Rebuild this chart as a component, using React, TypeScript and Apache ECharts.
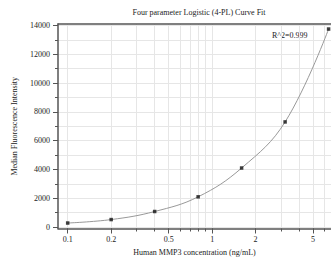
import React, { useEffect, useRef } from "react";
import * as echarts from "echarts";

const concentrations = [0.1, 0.2, 0.4, 0.8, 1.6, 3.2, 6.4];
const mfi = [280, 520, 1080, 2100, 4100, 7300, 13750];
const xLabelTicks = [0.1, 0.2, 0.5, 1, 2, 5];
const xMinorTicks = [0.1, 0.2, 0.3, 0.4, 0.5, 0.6, 0.7, 0.8, 0.9, 1, 2, 3, 4, 5, 6];
const yLabelTicks = [0, 2000, 4000, 6000, 8000, 10000, 12000, 14000];
const yMinorTicks = [0, 1000, 2000, 3000, 4000, 5000, 6000, 7000, 8000, 9000, 10000, 11000, 12000, 13000, 14000];
const titleText = "Four parameter Logistic (4-PL) Curve Fit";
const xName = "Human MMP3 concentration (ng/mL)";
const yName = "Median Fluorescence Intensity";
const r2Text = "R^2=0.999";

const FONT = "Liberation Serif";
const TEXT = "#222";
const X_MIN = 0.0857;
const X_MAX = 6.65;
const Y_MIN = -100;
const Y_MAX = 14100;

export default function App() {
  const ref = useRef<HTMLDivElement>(null);
  useEffect(() => {
    if (!ref.current) return;
    const chart = echarts.init(ref.current, null, { renderer: "svg" });
    const axisLineStyle = { color: "#555", width: 1.5 };
    const labelStyle = { fontFamily: FONT, fontSize: 8, color: TEXT };
    const pts = concentrations.map((c, i) => [c, mfi[i]]);
    chart.setOption({
      animation: false,
      backgroundColor: "#fff",
      textStyle: { fontFamily: FONT, color: TEXT },
      title: {
        text: titleText,
        left: 194,
        top: 3,
        textAlign: "center",
        textStyle: { fontFamily: FONT, fontSize: 8, fontWeight: "normal", color: TEXT },
      },
      grid: { left: 58, right: 0, top: 24, bottom: 37.5, containLabel: false },
      xAxis: [
        {
          type: "log",
          logBase: 10,
          min: X_MIN,
          max: X_MAX,
          position: "bottom",
          axisLine: { show: true, onZero: false, lineStyle: axisLineStyle },
          axisTick: { show: true, length: 5, customValues: xLabelTicks, lineStyle: { color: "#555", width: 1 } },
          axisLabel: { show: true, customValues: xLabelTicks, margin: 7, ...labelStyle, formatter: (v: number) => String(v) },
          splitLine: { show: false },
          name: xName,
          nameLocation: "middle",
          nameGap: 19,
          nameTextStyle: { fontFamily: FONT, fontSize: 8, color: TEXT },
        },
        {
          type: "log",
          logBase: 10,
          min: X_MIN,
          max: X_MAX,
          position: "bottom",
          axisLine: { show: false, onZero: false },
          axisTick: { show: true, length: 3, customValues: xMinorTicks, lineStyle: { color: "#555", width: 1 } },
          axisLabel: { show: false },
          splitLine: { show: true, lineStyle: { color: "#e6e6e6", width: 1 } },
        },
        {
          type: "log",
          logBase: 10,
          min: X_MIN,
          max: X_MAX,
          position: "top",
          axisLine: { show: true, onZero: false, lineStyle: axisLineStyle },
          axisTick: { show: false },
          axisLabel: { show: false },
          splitLine: { show: false },
        },
      ],
      yAxis: [
        {
          type: "value",
          min: Y_MIN,
          max: Y_MAX,
          position: "left",
          axisLine: { show: true, onZero: false, lineStyle: axisLineStyle },
          axisTick: { show: true, length: 5, customValues: yLabelTicks, lineStyle: { color: "#555", width: 1 } },
          axisLabel: { show: true, customValues: yLabelTicks, margin: 8, ...labelStyle, formatter: (v: number) => String(v) },
          splitLine: { show: false },
          name: yName,
          nameLocation: "middle",
          nameGap: 40,
          nameTextStyle: { fontFamily: FONT, fontSize: 8, color: TEXT },
        },
        {
          type: "value",
          min: Y_MIN,
          max: Y_MAX,
          position: "left",
          axisLine: { show: false, onZero: false },
          axisTick: { show: true, length: 3, customValues: yMinorTicks, lineStyle: { color: "#555", width: 1 } },
          axisLabel: { show: false },
          splitLine: { show: true, lineStyle: { color: "#e6e6e6", width: 1 } },
        },
      ],
      graphic: [
        {
          type: "text",
          left: 272,
          top: 31,
          style: { text: r2Text, fontFamily: FONT, fontSize: 8, fill: TEXT },
        },
      ],
      series: [
        {
          type: "line",
          xAxisIndex: 0,
          yAxisIndex: 0,
          data: pts,
          smooth: 0.4,
          showSymbol: false,
          lineStyle: { color: "#999", width: 1 },
          silent: true,
          z: 2,
        },
        {
          type: "scatter",
          xAxisIndex: 0,
          yAxisIndex: 0,
          data: pts,
          symbol: "rect",
          symbolSize: 3.5,
          itemStyle: { color: "#111" },
          z: 3,
        },
      ],
    });
    return () => chart.dispose();
  }, []);
  return <div ref={ref} style={{ position: "absolute", left: 0, top: 0, width: 331, height: 266 }} />;
}
